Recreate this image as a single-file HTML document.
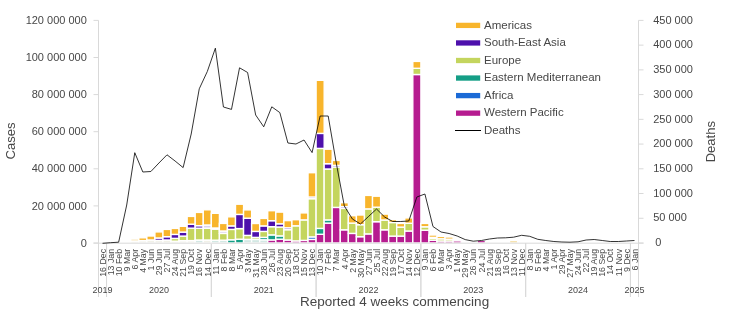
<!DOCTYPE html><html><head><meta charset="utf-8"><style>html,body{margin:0;padding:0;background:#fff;width:750px;height:323px;overflow:hidden}svg{display:block;will-change:transform}text{font-family:"Liberation Sans",sans-serif}</style></head><body>
<svg width="750" height="323" viewBox="0 0 750 323">
<rect width="750" height="323" fill="#fff"/>
<g stroke="#D9D9D9" stroke-width="1" fill="none">
<line x1="98.5" y1="20.4" x2="98.5" y2="297"/>
<line x1="638.5" y1="20.4" x2="638.5" y2="297"/>
<line x1="93.5" y1="243.00" x2="98.5" y2="243.00"/>
<line x1="93.5" y1="205.90" x2="98.5" y2="205.90"/>
<line x1="93.5" y1="168.80" x2="98.5" y2="168.80"/>
<line x1="93.5" y1="131.70" x2="98.5" y2="131.70"/>
<line x1="93.5" y1="94.60" x2="98.5" y2="94.60"/>
<line x1="93.5" y1="57.50" x2="98.5" y2="57.50"/>
<line x1="93.5" y1="20.40" x2="98.5" y2="20.40"/>
<line x1="638.5" y1="243.00" x2="643.5" y2="243.00"/>
<line x1="638.5" y1="218.27" x2="643.5" y2="218.27"/>
<line x1="638.5" y1="193.53" x2="643.5" y2="193.53"/>
<line x1="638.5" y1="168.80" x2="643.5" y2="168.80"/>
<line x1="638.5" y1="144.07" x2="643.5" y2="144.07"/>
<line x1="638.5" y1="119.33" x2="643.5" y2="119.33"/>
<line x1="638.5" y1="94.60" x2="643.5" y2="94.60"/>
<line x1="638.5" y1="69.87" x2="643.5" y2="69.87"/>
<line x1="638.5" y1="45.13" x2="643.5" y2="45.13"/>
<line x1="638.5" y1="20.40" x2="643.5" y2="20.40"/>
<line x1="98.50" y1="243.0" x2="98.50" y2="297"/>
<line x1="106.56" y1="243.0" x2="106.56" y2="297"/>
<line x1="106.56" y1="243.0" x2="106.56" y2="297"/>
<line x1="211.34" y1="243.0" x2="211.34" y2="297"/>
<line x1="211.34" y1="243.0" x2="211.34" y2="297"/>
<line x1="316.11" y1="243.0" x2="316.11" y2="297"/>
<line x1="316.11" y1="243.0" x2="316.11" y2="297"/>
<line x1="420.89" y1="243.0" x2="420.89" y2="297"/>
<line x1="420.89" y1="243.0" x2="420.89" y2="297"/>
<line x1="525.66" y1="243.0" x2="525.66" y2="297"/>
<line x1="525.66" y1="243.0" x2="525.66" y2="297"/>
<line x1="630.44" y1="243.0" x2="630.44" y2="297"/>
<line x1="630.44" y1="243.0" x2="630.44" y2="297"/>
<line x1="638.50" y1="243.0" x2="638.50" y2="297"/>
</g>
<g stroke="#fff" stroke-width="1.4">
<rect x="130.72" y="241.00" width="8.1" height="2.00" fill="#F1F1E8"/>
<rect x="130.72" y="239.00" width="8.1" height="2.00" fill="#F3D78F"/>
<rect x="138.78" y="240.60" width="8.1" height="2.40" fill="#F1F1E8"/>
<rect x="138.78" y="237.80" width="8.1" height="2.80" fill="#F8B52C"/>
<rect x="146.84" y="240.00" width="8.1" height="3.00" fill="#F1F1E8"/>
<rect x="146.84" y="236.00" width="8.1" height="4.00" fill="#F8B52C"/>
<rect x="154.90" y="240.40" width="8.1" height="2.60" fill="#F1F1E8"/>
<rect x="154.90" y="238.00" width="8.1" height="2.40" fill="#4D10AC"/>
<rect x="154.90" y="231.90" width="8.1" height="6.10" fill="#F8B52C"/>
<rect x="162.96" y="240.00" width="8.1" height="3.00" fill="#F1F1E8"/>
<rect x="162.96" y="236.70" width="8.1" height="3.30" fill="#4D10AC"/>
<rect x="162.96" y="229.40" width="8.1" height="7.30" fill="#F8B52C"/>
<rect x="171.02" y="241.20" width="8.1" height="1.80" fill="#F1F1E8"/>
<rect x="171.02" y="238.40" width="8.1" height="2.80" fill="#C4D55E"/>
<rect x="171.02" y="234.40" width="8.1" height="4.00" fill="#4D10AC"/>
<rect x="171.02" y="228.40" width="8.1" height="6.00" fill="#F8B52C"/>
<rect x="179.08" y="240.70" width="8.1" height="2.30" fill="#F1F1E8"/>
<rect x="179.08" y="236.10" width="8.1" height="4.60" fill="#C4D55E"/>
<rect x="179.08" y="232.10" width="8.1" height="4.00" fill="#4D10AC"/>
<rect x="179.08" y="226.30" width="8.1" height="5.80" fill="#F8B52C"/>
<rect x="187.14" y="240.60" width="8.1" height="2.40" fill="#F1F1E8"/>
<rect x="187.14" y="228.20" width="8.1" height="12.40" fill="#C4D55E"/>
<rect x="187.14" y="224.20" width="8.1" height="4.00" fill="#4D10AC"/>
<rect x="187.14" y="216.40" width="8.1" height="7.80" fill="#F8B52C"/>
<rect x="195.20" y="240.00" width="8.1" height="3.00" fill="#D3E8E4"/>
<rect x="195.20" y="228.20" width="8.1" height="11.80" fill="#C4D55E"/>
<rect x="195.20" y="225.70" width="8.1" height="2.50" fill="#4D10AC"/>
<rect x="195.20" y="212.40" width="8.1" height="13.30" fill="#F8B52C"/>
<rect x="203.26" y="240.00" width="8.1" height="3.00" fill="#F1F1E8"/>
<rect x="203.26" y="228.20" width="8.1" height="11.80" fill="#C4D55E"/>
<rect x="203.26" y="225.00" width="8.1" height="3.20" fill="#DCD3EC"/>
<rect x="203.26" y="209.80" width="8.1" height="15.20" fill="#F8B52C"/>
<rect x="211.32" y="240.20" width="8.1" height="2.80" fill="#D3E8E4"/>
<rect x="211.32" y="229.20" width="8.1" height="11.00" fill="#C4D55E"/>
<rect x="211.32" y="228.00" width="8.1" height="1.20" fill="#4D10AC"/>
<rect x="211.32" y="213.30" width="8.1" height="14.70" fill="#F8B52C"/>
<rect x="219.38" y="240.20" width="8.1" height="2.80" fill="#D3E8E4"/>
<rect x="219.38" y="233.40" width="8.1" height="6.80" fill="#C4D55E"/>
<rect x="219.38" y="231.00" width="8.1" height="2.40" fill="#DCD3EC"/>
<rect x="219.38" y="223.40" width="8.1" height="7.60" fill="#F8B52C"/>
<rect x="227.44" y="239.80" width="8.1" height="3.20" fill="#159E86"/>
<rect x="227.44" y="229.40" width="8.1" height="10.40" fill="#C4D55E"/>
<rect x="227.44" y="225.90" width="8.1" height="3.50" fill="#4D10AC"/>
<rect x="227.44" y="216.80" width="8.1" height="9.10" fill="#F8B52C"/>
<rect x="235.49" y="239.20" width="8.1" height="3.80" fill="#159E86"/>
<rect x="235.49" y="228.60" width="8.1" height="10.60" fill="#C4D55E"/>
<rect x="235.49" y="214.40" width="8.1" height="14.20" fill="#4D10AC"/>
<rect x="235.49" y="204.20" width="8.1" height="10.20" fill="#F8B52C"/>
<rect x="243.55" y="239.40" width="8.1" height="3.60" fill="#D3E8E4"/>
<rect x="243.55" y="235.40" width="8.1" height="4.00" fill="#C4D55E"/>
<rect x="243.55" y="218.20" width="8.1" height="17.20" fill="#4D10AC"/>
<rect x="243.55" y="209.90" width="8.1" height="8.30" fill="#F8B52C"/>
<rect x="251.61" y="239.40" width="8.1" height="3.60" fill="#D3E8E4"/>
<rect x="251.61" y="237.40" width="8.1" height="2.00" fill="#C4D55E"/>
<rect x="251.61" y="231.40" width="8.1" height="6.00" fill="#4D10AC"/>
<rect x="251.61" y="223.50" width="8.1" height="7.90" fill="#F8B52C"/>
<rect x="259.67" y="239.80" width="8.1" height="3.20" fill="#D3E8E4"/>
<rect x="259.67" y="237.40" width="8.1" height="2.40" fill="#159E86"/>
<rect x="259.67" y="231.40" width="8.1" height="6.00" fill="#C4D55E"/>
<rect x="259.67" y="225.90" width="8.1" height="5.50" fill="#4D10AC"/>
<rect x="259.67" y="218.40" width="8.1" height="7.50" fill="#F8B52C"/>
<rect x="267.73" y="239.90" width="8.1" height="3.10" fill="#B61C90"/>
<rect x="267.73" y="234.90" width="8.1" height="5.00" fill="#159E86"/>
<rect x="267.73" y="226.70" width="8.1" height="8.20" fill="#C4D55E"/>
<rect x="267.73" y="220.70" width="8.1" height="6.00" fill="#4D10AC"/>
<rect x="267.73" y="210.70" width="8.1" height="10.00" fill="#F8B52C"/>
<rect x="275.79" y="239.20" width="8.1" height="3.80" fill="#B61C90"/>
<rect x="275.79" y="235.90" width="8.1" height="3.30" fill="#159E86"/>
<rect x="275.79" y="227.00" width="8.1" height="8.90" fill="#C4D55E"/>
<rect x="275.79" y="223.80" width="8.1" height="3.20" fill="#4D10AC"/>
<rect x="275.79" y="212.10" width="8.1" height="11.70" fill="#F8B52C"/>
<rect x="283.85" y="240.00" width="8.1" height="3.00" fill="#B61C90"/>
<rect x="283.85" y="229.70" width="8.1" height="10.30" fill="#C4D55E"/>
<rect x="283.85" y="227.80" width="8.1" height="1.90" fill="#4D10AC"/>
<rect x="283.85" y="220.60" width="8.1" height="7.20" fill="#F8B52C"/>
<rect x="291.91" y="240.90" width="8.1" height="2.10" fill="#B61C90"/>
<rect x="291.91" y="225.80" width="8.1" height="15.10" fill="#C4D55E"/>
<rect x="291.91" y="219.70" width="8.1" height="6.10" fill="#F8B52C"/>
<rect x="299.97" y="240.40" width="8.1" height="2.60" fill="#B61C90"/>
<rect x="299.97" y="219.90" width="8.1" height="20.50" fill="#C4D55E"/>
<rect x="299.97" y="212.90" width="8.1" height="7.00" fill="#F8B52C"/>
<rect x="308.03" y="239.40" width="8.1" height="3.60" fill="#B61C90"/>
<rect x="308.03" y="236.90" width="8.1" height="2.50" fill="#1B6AD6"/>
<rect x="308.03" y="198.70" width="8.1" height="38.20" fill="#C4D55E"/>
<rect x="308.03" y="197.00" width="8.1" height="1.70" fill="#4D10AC"/>
<rect x="308.03" y="172.70" width="8.1" height="24.30" fill="#F8B52C"/>
<rect x="316.09" y="234.30" width="8.1" height="8.70" fill="#B61C90"/>
<rect x="316.09" y="228.40" width="8.1" height="5.90" fill="#159E86"/>
<rect x="316.09" y="148.40" width="8.1" height="80.00" fill="#C4D55E"/>
<rect x="316.09" y="133.40" width="8.1" height="15.00" fill="#4D10AC"/>
<rect x="316.09" y="80.30" width="8.1" height="53.10" fill="#F8B52C"/>
<rect x="324.15" y="223.10" width="8.1" height="19.90" fill="#B61C90"/>
<rect x="324.15" y="219.90" width="8.1" height="3.20" fill="#159E86"/>
<rect x="324.15" y="169.00" width="8.1" height="50.90" fill="#C4D55E"/>
<rect x="324.15" y="163.70" width="8.1" height="5.30" fill="#4D10AC"/>
<rect x="324.15" y="149.20" width="8.1" height="14.50" fill="#F8B52C"/>
<rect x="332.21" y="207.40" width="8.1" height="35.60" fill="#B61C90"/>
<rect x="332.21" y="167.00" width="8.1" height="40.40" fill="#C4D55E"/>
<rect x="332.21" y="165.40" width="8.1" height="1.60" fill="#4D10AC"/>
<rect x="332.21" y="160.40" width="8.1" height="5.00" fill="#F8B52C"/>
<rect x="340.27" y="229.80" width="8.1" height="13.20" fill="#B61C90"/>
<rect x="340.27" y="208.40" width="8.1" height="21.40" fill="#C4D55E"/>
<rect x="340.27" y="206.70" width="8.1" height="1.70" fill="#4D10AC"/>
<rect x="340.27" y="202.70" width="8.1" height="4.00" fill="#F8B52C"/>
<rect x="348.33" y="233.40" width="8.1" height="9.60" fill="#B61C90"/>
<rect x="348.33" y="223.10" width="8.1" height="10.30" fill="#C4D55E"/>
<rect x="348.33" y="215.70" width="8.1" height="7.40" fill="#F8B52C"/>
<rect x="356.39" y="236.70" width="8.1" height="6.30" fill="#B61C90"/>
<rect x="356.39" y="224.70" width="8.1" height="12.00" fill="#C4D55E"/>
<rect x="356.39" y="215.00" width="8.1" height="9.70" fill="#F8B52C"/>
<rect x="364.45" y="233.90" width="8.1" height="9.10" fill="#B61C90"/>
<rect x="364.45" y="208.90" width="8.1" height="25.00" fill="#C4D55E"/>
<rect x="364.45" y="195.40" width="8.1" height="13.50" fill="#F8B52C"/>
<rect x="372.51" y="221.70" width="8.1" height="21.30" fill="#B61C90"/>
<rect x="372.51" y="207.20" width="8.1" height="14.50" fill="#C4D55E"/>
<rect x="372.51" y="196.20" width="8.1" height="11.00" fill="#F8B52C"/>
<rect x="380.57" y="229.80" width="8.1" height="13.20" fill="#B61C90"/>
<rect x="380.57" y="220.00" width="8.1" height="9.80" fill="#C4D55E"/>
<rect x="380.57" y="214.10" width="8.1" height="5.90" fill="#F8B52C"/>
<rect x="388.63" y="236.10" width="8.1" height="6.90" fill="#B61C90"/>
<rect x="388.63" y="222.50" width="8.1" height="13.60" fill="#C4D55E"/>
<rect x="388.63" y="219.60" width="8.1" height="2.90" fill="#F8B52C"/>
<rect x="396.69" y="236.10" width="8.1" height="6.90" fill="#B61C90"/>
<rect x="396.69" y="227.10" width="8.1" height="9.00" fill="#C4D55E"/>
<rect x="396.69" y="223.40" width="8.1" height="3.70" fill="#F8B52C"/>
<rect x="404.75" y="231.00" width="8.1" height="12.00" fill="#B61C90"/>
<rect x="404.75" y="223.30" width="8.1" height="7.70" fill="#C4D55E"/>
<rect x="404.75" y="217.90" width="8.1" height="5.40" fill="#F8B52C"/>
<rect x="412.81" y="74.50" width="8.1" height="168.50" fill="#B61C90"/>
<rect x="412.81" y="68.30" width="8.1" height="6.20" fill="#C4D55E"/>
<rect x="412.81" y="61.40" width="8.1" height="6.90" fill="#F8B52C"/>
<rect x="420.87" y="230.20" width="8.1" height="12.80" fill="#B61C90"/>
<rect x="420.87" y="226.80" width="8.1" height="3.40" fill="#C4D55E"/>
<rect x="420.87" y="223.40" width="8.1" height="3.40" fill="#F8B52C"/>
<rect x="428.93" y="240.20" width="8.1" height="2.80" fill="#B61C90"/>
<rect x="428.93" y="238.30" width="8.1" height="1.90" fill="#C4D55E"/>
<rect x="428.93" y="237.40" width="8.1" height="0.90" fill="#F1F1E8"/>
<rect x="428.93" y="235.00" width="8.1" height="2.40" fill="#F8B52C"/>
<rect x="436.99" y="241.00" width="8.1" height="2.00" fill="#B61C90"/>
<rect x="436.99" y="238.80" width="8.1" height="2.20" fill="#C4D55E"/>
<rect x="436.99" y="236.40" width="8.1" height="2.40" fill="#F8B52C"/>
<rect x="445.05" y="241.00" width="8.1" height="2.00" fill="#B61C90"/>
<rect x="445.05" y="239.20" width="8.1" height="1.80" fill="#C4D55E"/>
<rect x="445.05" y="237.00" width="8.1" height="2.20" fill="#F8B52C"/>
<rect x="453.11" y="240.90" width="8.1" height="2.10" fill="#B61C90"/>
<rect x="477.29" y="240.40" width="8.1" height="2.60" fill="#B61C90"/>
<rect x="509.52" y="240.60" width="8.1" height="2.40" fill="#F3D78F"/>
</g>
<line x1="93.5" y1="243.2" x2="643.5" y2="243.2" stroke="#D9D9D9" stroke-width="1"/>
<polyline points="102.53,243.30 110.59,242.70 118.65,242.20 126.71,205.00 134.77,152.70 142.83,172.00 150.89,171.50 158.95,163.00 167.01,154.80 175.07,161.00 183.13,167.60 191.19,134.00 199.25,88.80 207.31,71.50 215.37,48.20 223.43,107.00 231.49,109.40 239.54,67.80 247.60,72.50 255.66,115.00 263.72,126.80 271.78,106.80 279.84,112.60 287.90,143.00 295.96,144.00 304.02,140.00 312.08,152.60 320.14,116.00 328.20,116.00 336.26,163.00 344.32,206.00 352.38,219.00 360.44,224.00 368.50,216.50 376.56,209.00 384.62,217.00 392.68,221.50 400.74,221.50 408.80,221.00 416.86,197.00 424.92,194.00 432.98,226.50 441.04,232.00 449.10,233.50 457.16,236.00 465.22,239.60 473.28,241.20 481.34,240.50 489.40,239.00 497.46,238.00 505.51,237.80 513.57,237.20 521.63,235.30 529.69,236.30 537.75,239.30 545.81,240.50 553.87,241.50 561.93,242.00 569.99,242.20 578.05,241.80 586.11,240.00 594.17,239.50 602.23,240.50 610.29,241.50 618.35,241.50 626.41,241.00 634.47,240.50" fill="none" stroke="#000" stroke-width="0.8" stroke-linejoin="round"/>
<g fill="#474747" font-size="11" text-anchor="end">
<text x="86.8" y="246.60">0</text>
<text x="86.8" y="209.50">20 000 000</text>
<text x="86.8" y="172.40">40 000 000</text>
<text x="86.8" y="135.30">60 000 000</text>
<text x="86.8" y="98.20">80 000 000</text>
<text x="86.8" y="61.10">100 000 000</text>
<text x="86.8" y="24.00">120 000 000</text>
</g>
<g fill="#474747" font-size="11" text-anchor="start">
<text x="655.2" y="246.20">0</text>
<text x="653.2" y="221.47">50 000</text>
<text x="653.2" y="196.73">100 000</text>
<text x="653.2" y="172.00">150 000</text>
<text x="653.2" y="147.27">200 000</text>
<text x="653.2" y="122.53">250 000</text>
<text x="653.2" y="97.80">300 000</text>
<text x="653.2" y="73.07">350 000</text>
<text x="653.2" y="48.33">400 000</text>
<text x="653.2" y="23.60">450 000</text>
</g>
<text transform="translate(14.6,141) rotate(-90)" text-anchor="middle" font-size="13" fill="#474747">Cases</text>
<text transform="translate(714.5,141.7) rotate(-90)" text-anchor="middle" font-size="13" fill="#474747">Deaths</text>
<g fill="#474747" font-size="8.8" text-anchor="end">
<text transform="translate(105.73,248.9) rotate(-90)">16 Dec</text>
<text transform="translate(113.79,248.9) rotate(-90)">13 Jan</text>
<text transform="translate(121.85,248.9) rotate(-90)">10 Feb</text>
<text transform="translate(129.91,248.9) rotate(-90)">9 Mar</text>
<text transform="translate(137.97,248.9) rotate(-90)">6 Apr</text>
<text transform="translate(146.03,248.9) rotate(-90)">4 May</text>
<text transform="translate(154.09,248.9) rotate(-90)">1 Jun</text>
<text transform="translate(162.15,248.9) rotate(-90)">29 Jun</text>
<text transform="translate(170.21,248.9) rotate(-90)">27 Jul</text>
<text transform="translate(178.27,248.9) rotate(-90)">24 Aug</text>
<text transform="translate(186.33,248.9) rotate(-90)">21 Sep</text>
<text transform="translate(194.39,248.9) rotate(-90)">19 Oct</text>
<text transform="translate(202.45,248.9) rotate(-90)">16 Nov</text>
<text transform="translate(210.51,248.9) rotate(-90)">14 Dec</text>
<text transform="translate(218.57,248.9) rotate(-90)">11 Jan</text>
<text transform="translate(226.63,248.9) rotate(-90)">8 Feb</text>
<text transform="translate(234.69,248.9) rotate(-90)">8 Mar</text>
<text transform="translate(242.74,248.9) rotate(-90)">5 Apr</text>
<text transform="translate(250.80,248.9) rotate(-90)">3 May</text>
<text transform="translate(258.86,248.9) rotate(-90)">31 May</text>
<text transform="translate(266.92,248.9) rotate(-90)">28 Jun</text>
<text transform="translate(274.98,248.9) rotate(-90)">26 Jul</text>
<text transform="translate(283.04,248.9) rotate(-90)">23 Aug</text>
<text transform="translate(291.10,248.9) rotate(-90)">20 Sep</text>
<text transform="translate(299.16,248.9) rotate(-90)">18 Oct</text>
<text transform="translate(307.22,248.9) rotate(-90)">15 Nov</text>
<text transform="translate(315.28,248.9) rotate(-90)">13 Dec</text>
<text transform="translate(323.34,248.9) rotate(-90)">10 Jan</text>
<text transform="translate(331.40,248.9) rotate(-90)">7 Feb</text>
<text transform="translate(339.46,248.9) rotate(-90)">7 Mar</text>
<text transform="translate(347.52,248.9) rotate(-90)">4 Apr</text>
<text transform="translate(355.58,248.9) rotate(-90)">2 May</text>
<text transform="translate(363.64,248.9) rotate(-90)">30 May</text>
<text transform="translate(371.70,248.9) rotate(-90)">27 Jun</text>
<text transform="translate(379.76,248.9) rotate(-90)">25 Jul</text>
<text transform="translate(387.82,248.9) rotate(-90)">22 Aug</text>
<text transform="translate(395.88,248.9) rotate(-90)">19 Sep</text>
<text transform="translate(403.94,248.9) rotate(-90)">17 Oct</text>
<text transform="translate(412.00,248.9) rotate(-90)">14 Nov</text>
<text transform="translate(420.06,248.9) rotate(-90)">12 Dec</text>
<text transform="translate(428.12,248.9) rotate(-90)">9 Jan</text>
<text transform="translate(436.18,248.9) rotate(-90)">6 Feb</text>
<text transform="translate(444.24,248.9) rotate(-90)">6 Mar</text>
<text transform="translate(452.30,248.9) rotate(-90)">3 Apr</text>
<text transform="translate(460.36,248.9) rotate(-90)">1 May</text>
<text transform="translate(468.42,248.9) rotate(-90)">29 May</text>
<text transform="translate(476.48,248.9) rotate(-90)">26 Jun</text>
<text transform="translate(484.54,248.9) rotate(-90)">24 Jul</text>
<text transform="translate(492.60,248.9) rotate(-90)">21 Aug</text>
<text transform="translate(500.66,248.9) rotate(-90)">18 Sep</text>
<text transform="translate(508.71,248.9) rotate(-90)">16 Oct</text>
<text transform="translate(516.77,248.9) rotate(-90)">13 Nov</text>
<text transform="translate(524.83,248.9) rotate(-90)">11 Dec</text>
<text transform="translate(532.89,248.9) rotate(-90)">8 Jan</text>
<text transform="translate(540.95,248.9) rotate(-90)">5 Feb</text>
<text transform="translate(549.01,248.9) rotate(-90)">4 Mar</text>
<text transform="translate(557.07,248.9) rotate(-90)">1 Apr</text>
<text transform="translate(565.13,248.9) rotate(-90)">29 Apr</text>
<text transform="translate(573.19,248.9) rotate(-90)">27 May</text>
<text transform="translate(581.25,248.9) rotate(-90)">24 Jun</text>
<text transform="translate(589.31,248.9) rotate(-90)">22 Jul</text>
<text transform="translate(597.37,248.9) rotate(-90)">19 Aug</text>
<text transform="translate(605.43,248.9) rotate(-90)">16 Sep</text>
<text transform="translate(613.49,248.9) rotate(-90)">14 Oct</text>
<text transform="translate(621.55,248.9) rotate(-90)">11 Nov</text>
<text transform="translate(629.61,248.9) rotate(-90)">9 Dec</text>
<text transform="translate(637.67,248.9) rotate(-90)">6 Jan</text>
</g>
<g fill="#474747" font-size="9" text-anchor="middle">
<text x="102.53" y="293.2">2019</text>
<text x="158.95" y="293.2">2020</text>
<text x="263.72" y="293.2">2021</text>
<text x="368.50" y="293.2">2022</text>
<text x="473.28" y="293.2">2023</text>
<text x="578.05" y="293.2">2024</text>
<text x="634.47" y="293.2">2025</text>
</g>
<text x="394.6" y="306" text-anchor="middle" font-size="13.5" fill="#474747">Reported 4 weeks commencing</text>
<rect x="456" y="22.75" width="24.2" height="5.3" fill="#F8B52C"/>
<text x="484" y="28.60" font-size="11.5" fill="#474747">Americas</text>
<rect x="456" y="40.30" width="24.2" height="5.3" fill="#4D10AC"/>
<text x="484" y="46.10" font-size="11.5" fill="#474747">South-East Asia</text>
<rect x="456" y="57.85" width="24.2" height="5.3" fill="#C4D55E"/>
<text x="484" y="63.60" font-size="11.5" fill="#474747">Europe</text>
<rect x="456" y="75.40" width="24.2" height="5.3" fill="#159E86"/>
<text x="484" y="81.10" font-size="11.5" fill="#474747">Eastern Mediterranean</text>
<rect x="456" y="92.95" width="24.2" height="5.3" fill="#1B6AD6"/>
<text x="484" y="98.60" font-size="11.5" fill="#474747">Africa</text>
<rect x="456" y="110.50" width="24.2" height="5.3" fill="#B61C90"/>
<text x="484" y="116.10" font-size="11.5" fill="#474747">Western Pacific</text>
<line x1="455" y1="130.50" x2="481" y2="130.50" stroke="#000" stroke-width="1"/>
<text x="484" y="133.60" font-size="11.5" fill="#474747">Deaths</text>
</svg></body></html>
